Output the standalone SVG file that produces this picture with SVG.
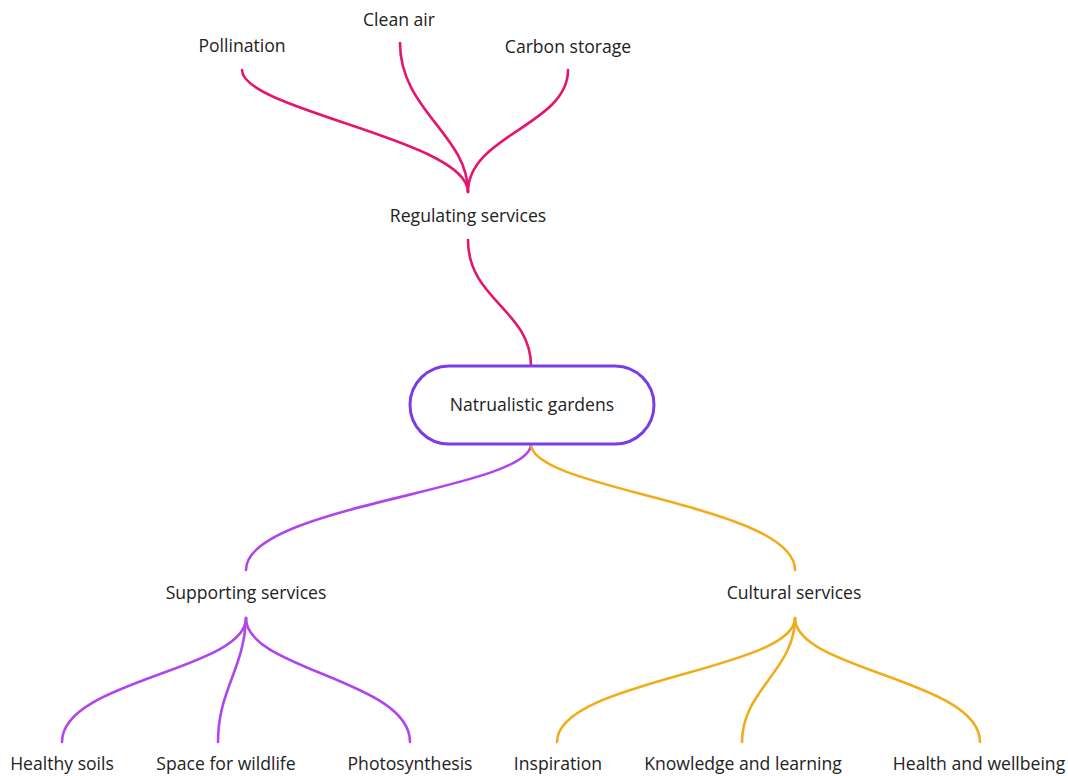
<svg xmlns="http://www.w3.org/2000/svg" width="1068" height="776" viewBox="0 0 1068 776">
<style>
.t{font-family:"Open Sans","Noto Sans","Liberation Sans",sans-serif;font-size:17.6px;fill:#222;text-anchor:middle}
.c{fill:none;stroke-width:2.6;stroke-linecap:round}
.pk{stroke:#e3156f}
.pu{stroke:#b046ea}
.or{stroke:#f1ac1a}
</style>
<rect width="1068" height="776" fill="#fff"/>
<g id="connectors">
<path class="c pk" d="M242,70 C242,110 468,140 468,192"/>
<path class="c pk" d="M400,43 C400,110 468,135 468,192"/>
<path class="c pk" d="M568,70 C568,125 468,135 468,192"/>
<path class="c pk" d="M468,240 C468,300 531,310 531,366"/>
<path class="c pu" d="M531,444 C531,490 246,505 246,570"/>
<path class="c or" d="M531,444 C531,490 795,505 795,570"/>
<path class="c pu" d="M246,618 C246,670 62,680 62,742"/>
<path class="c pu" d="M246,618 C244,670 218,690 218,742"/>
<path class="c pu" d="M246,618 C246,670 410,680 410,742"/>
<path class="c or" d="M795,618 C795,670 557,680 557,742"/>
<path class="c or" d="M795,618 C795,670 742,690 742,742"/>
<path class="c or" d="M795,618 C795,670 980,680 980,742"/>
</g>
<g id="pollination"><text class="t" x="242" y="52">Pollination</text></g>
<g id="clean-air"><text class="t" x="399" y="26">Clean air</text></g>
<g id="carbon-storage"><text class="t" x="568" y="53">Carbon storage</text></g>
<g id="regulating"><text class="t" x="468" y="222">Regulating services</text></g>
<g id="gardens">
<rect x="410" y="366" width="244" height="78" rx="39" fill="#fff" stroke="#7a3ce6" stroke-width="3"/>
<text class="t" x="532" y="411">Natrualistic gardens</text>
</g>
<g id="supporting"><text class="t" x="246" y="599">Supporting services</text></g>
<g id="cultural"><text class="t" x="794" y="599">Cultural services</text></g>
<g id="healthy-soils"><text class="t" x="62" y="770">Healthy soils</text></g>
<g id="wildlife"><text class="t" x="226" y="770">Space for wildlife</text></g>
<g id="photosynthesis"><text class="t" x="410" y="770">Photosynthesis</text></g>
<g id="inspiration"><text class="t" x="558" y="770">Inspiration</text></g>
<g id="knowledge"><text class="t" x="743" y="770">Knowledge and learning</text></g>
<g id="health"><text class="t" x="979" y="770">Health and wellbeing</text></g>
</svg>
